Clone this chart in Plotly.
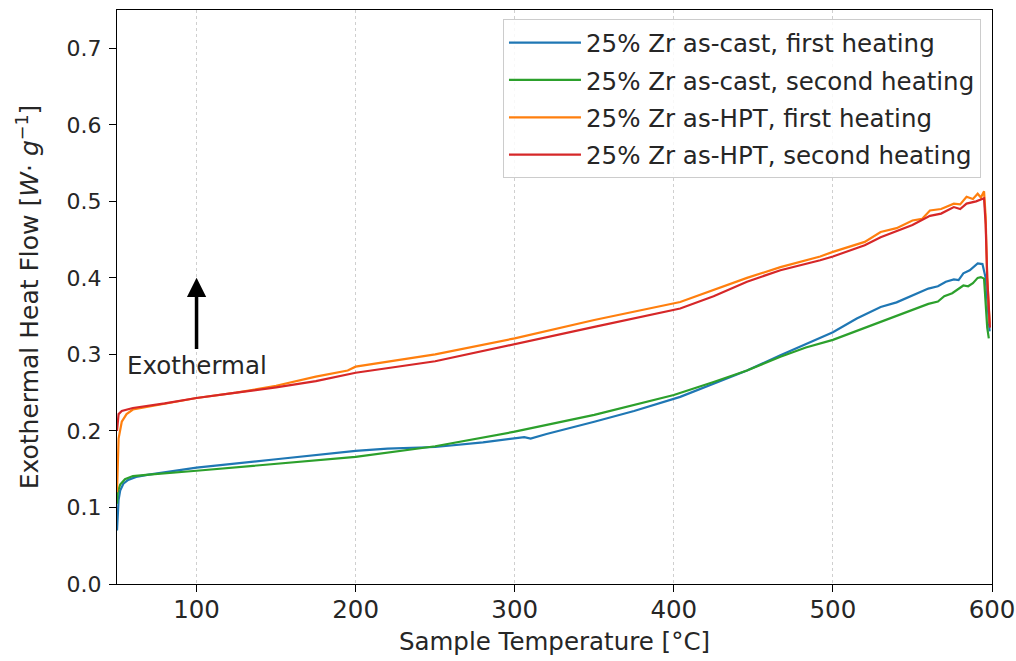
import plotly.graph_objects as go

# ---- data ----
t_cast1 = [50, 50.5, 51, 52, 54, 57, 62, 70, 100, 150, 200, 220, 250, 280, 300, 306, 310, 320, 350, 375,
           404, 425, 446, 467, 484, 500, 515, 530, 540, 550, 560, 566, 571, 576, 579, 582, 586, 591, 594, 596, 597.5, 598.5]
v_cast1 = [0.07, 0.095, 0.11, 0.122, 0.131, 0.136, 0.14, 0.143, 0.152, 0.163, 0.174, 0.177, 0.179, 0.185, 0.19, 0.192, 0.19, 0.196, 0.212, 0.226,
           0.2445, 0.262, 0.279, 0.299, 0.314, 0.329, 0.347, 0.362, 0.368, 0.377, 0.386, 0.389, 0.395, 0.398, 0.397, 0.406, 0.41, 0.419, 0.418, 0.40, 0.36, 0.33]

t_cast2 = [50, 50.5, 52, 55, 60, 70, 100, 150, 200, 250, 300, 350, 400, 425, 446, 467, 483, 500, 515, 530,
           550, 560, 566, 570, 575, 582, 585, 588, 591, 593, 595, 596, 597, 598]
v_cast2 = [0.105, 0.12, 0.13, 0.137, 0.141, 0.143, 0.148, 0.157, 0.166, 0.18, 0.199, 0.221, 0.247, 0.264, 0.279, 0.297, 0.309, 0.319, 0.331, 0.342,
           0.358, 0.366, 0.369, 0.376, 0.38, 0.39, 0.389, 0.393, 0.40, 0.401, 0.399, 0.37, 0.335, 0.321]

t_hpt1 = [50, 51, 53, 56, 60, 80, 100, 125, 150, 175, 195, 200, 250, 300, 350, 404, 425, 446, 467, 492, 500,
          510, 520, 530, 540, 550, 556, 561, 568, 576, 580, 584, 588, 591, 593, 595, 596, 597, 598.5]
v_hpt1 = [0.12, 0.19, 0.212, 0.222, 0.228, 0.236, 0.243, 0.25, 0.259, 0.271, 0.279, 0.284, 0.30, 0.321, 0.345, 0.3685, 0.384, 0.40, 0.414, 0.428, 0.434,
          0.441, 0.447, 0.46, 0.465, 0.475, 0.477, 0.488, 0.49, 0.497, 0.496, 0.506, 0.503, 0.51, 0.505, 0.513, 0.48, 0.40, 0.34]

t_hpt2 = [50, 51, 53, 56, 60, 80, 100, 125, 150, 175, 200, 250, 300, 350, 404, 425, 446, 467, 492, 500,
          520, 530, 550, 561, 568, 576, 580, 584, 590, 595, 596, 597, 598.7]
v_hpt2 = [0.20, 0.222, 0.226, 0.228, 0.230, 0.236, 0.243, 0.25, 0.257, 0.265, 0.276, 0.291, 0.313, 0.336, 0.36, 0.376, 0.395, 0.41, 0.423, 0.428,
          0.4425, 0.453, 0.469, 0.481, 0.484, 0.4925, 0.49, 0.497, 0.50, 0.504, 0.47, 0.40, 0.335]

series = [
    ("25% Zr as-cast, first heating", t_cast1, v_cast1, "#1f77b4"),
    ("25% Zr as-cast, second heating", t_cast2, v_cast2, "#2ca02c"),
    ("25% Zr as-HPT, first heating", t_hpt1, v_hpt1, "#ff7f0e"),
    ("25% Zr as-HPT, second heating", t_hpt2, v_hpt2, "#d62728"),
]

x_ticks = [100, 200, 300, 400, 500, 600]
y_ticks = [0.0, 0.1, 0.2, 0.3, 0.4, 0.5, 0.6, 0.7]

FONT = "DejaVu Sans"
TXT = "#262626"
fig = go.Figure()
for i, (name, t, v, c) in enumerate(series):
    fig.add_trace(go.Scatter(x=t, y=v, mode="lines", name=name, legendgroup=f"g{i}",
                             line=dict(color=c, width=2.2)))

fig.update_layout(
    width=1016, height=661,
    margin=dict(l=117, r=24, t=10, b=77, autoexpand=False),
    paper_bgcolor="white", plot_bgcolor="white",
    font=dict(family=FONT, color=TXT, size=22),
    showlegend=True,
    legend=dict(x=0.9874, y=0.984, xanchor="right", yanchor="top",
                bgcolor="rgba(255,255,255,0.85)", bordercolor="#cccccc", borderwidth=1,
                font=dict(family=FONT, size=24.5, color=TXT),
                tracegroupgap=2.5, itemwidth=72),
)
fig.update_xaxes(range=[50, 600], tickvals=x_ticks, ticktext=[str(v) for v in x_ticks],
                 automargin=False,
                 showline=True, linecolor="black", linewidth=1.3, mirror=True,
                 ticks="outside", ticklen=7, tickwidth=1.3, tickcolor="black",
                 tickfont=dict(family=FONT, size=24.5, color=TXT), ticklabelstandoff=-4,
                 showgrid=True, gridcolor="#cfcfcf", griddash="dot", gridwidth=1,
                 zeroline=False,
                 title=dict(text="Sample Temperature [°C]", font=dict(family=FONT, size=24.5, color=TXT), standoff=10))
fig.update_yaxes(range=[0, 0.75], tickvals=y_ticks, ticktext=[f"{v:.1f}" for v in y_ticks],
                 automargin=False,
                 showline=True, linecolor="black", linewidth=1.3, mirror=True,
                 ticks="outside", ticklen=7, tickwidth=1.3, tickcolor="black",
                 tickfont=dict(family=FONT, size=22, color=TXT), ticklabelstandoff=3,
                 showgrid=False, zeroline=False,
                 title=dict(text="Exothermal Heat Flow [<i>W</i>· <i>g</i><sup>−1</sup>]",
                            font=dict(family=FONT, size=25, color=TXT), standoff=20))

fig.add_annotation(x=100, y=0.40, ax=100, ay=0.305, xref="x", yref="y", axref="x", ayref="y",
                   text="", showarrow=True, arrowhead=2, arrowsize=1.1, arrowwidth=3.5, arrowcolor="black")
fig.add_annotation(x=55, y=0.285, xref="x", yref="y", text="Exothermal", showarrow=False,
                   xanchor="left", yanchor="middle", font=dict(family=FONT, size=24.5, color=TXT))

fig.write_html("out.html")
